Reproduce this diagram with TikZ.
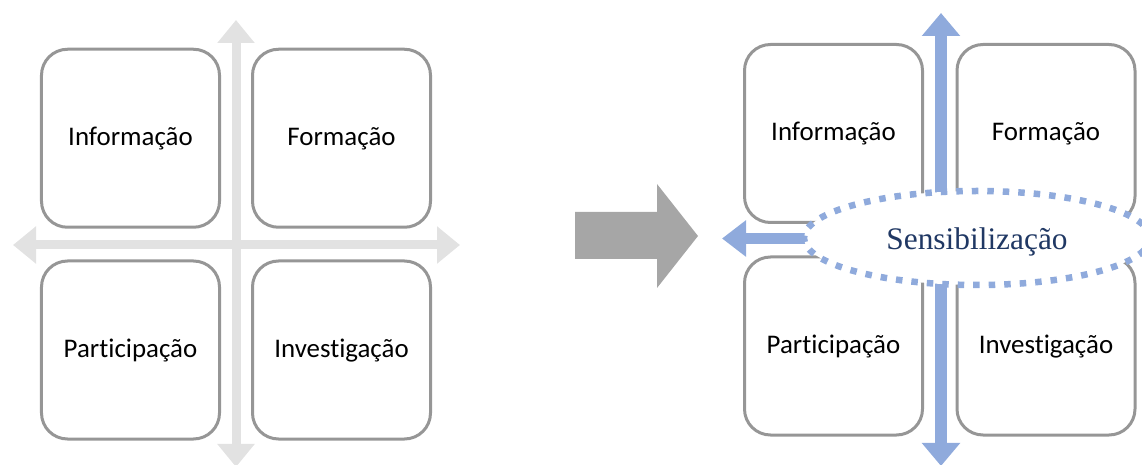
\documentclass[tikz,border=0pt]{standalone}
\usepackage{fontspec}
\setmainfont{Carlito}[Ligatures={NoCommon}]
\newfontfamily\serifface{Liberation Serif}
\usetikzlibrary{arrows.meta,shapes.geometric}
\definecolor{boxgray}{HTML}{969696}
\definecolor{axisgray}{HTML}{E2E2E2}
\definecolor{biggray}{HTML}{A6A6A6}
\definecolor{axisblue}{HTML}{8FAADC}
\definecolor{navy}{HTML}{203864}
\begin{document}
\begin{tikzpicture}[x=1bp,y=-1bp,
  quad/.style={draw=boxgray, line width=3bp, rounded corners=26bp,
    minimum width=178bp, minimum height=178bp, inner sep=0pt,
    text height=14.5bp, text depth=0bp,
    font=\fontsize{27}{32}\selectfont},
  grayaxis/.style={draw=axisgray, line width=9bp,
    {Triangle[width=36bp,length=23bp]}-{Triangle[width=36bp,length=23bp]}},
  blueaxis/.style={draw=axisblue, line width=11.5bp,
    {Triangle[width=37bp,length=23bp]}-{Triangle[width=37bp,length=23bp]}},
  blueleft/.style={draw=axisblue, line width=11.5bp,
    -{Triangle[width=35bp,length=24bp]}},
  sensnode/.style={ellipse, draw=axisblue, fill=white, line width=6.5bp,
    dash pattern=on 6.5bp off 9bp, minimum width=346bp, minimum height=94bp,
    inner sep=0pt, text height=24bp, text depth=0bp,
    text=navy, font=\serifface\fontsize{31.5}{36}\selectfont},
  bigarrow/.style={fill=biggray}
]
\useasboundingbox (0,0) rectangle (1142,465);

% ---------- left panel ----------
\coordinate (lvt) at (236,20);
\coordinate (lvb) at (236,467);
\coordinate (lhl) at (13,245);
\coordinate (lhr) at (460,245);
\draw[grayaxis] (lvt) -- (lvb);
\draw[grayaxis] (lhl) -- (lhr);

\node[quad] (linf) at (130.5,138.25) {Informação};
\node[quad] (lfor) at (341.5,138.25) {Formação};
\node[quad] (lpar) at (130.5,350) {Participação};
\node[quad] (linv) at (341.5,350) {Investigação};

% ---------- big arrow ----------
\fill[bigarrow] (575,212) -- (657,212) -- (657,184) -- (698,236)
  -- (657,288) -- (657,259) -- (575,259) -- cycle;

% ---------- right panel ----------
\node[quad] (rinf) at (833.5,133.5) {Informação};
\node[quad] (rfor) at (1046,133.5) {Formação};
\node[quad] (rpar) at (833.5,346) {Participação};
\node[quad] (rinv) at (1046,346) {Investigação};

\coordinate (rvt) at (941,13);
\coordinate (rvb) at (941,466);
\coordinate (rhc) at (900,238.5);
\coordinate (rhl) at (722,238.5);
\draw[blueaxis] (rvt) -- (rvb);
\draw[blueleft] (rhc) -- (rhl);

\node[sensnode] (sens) at (977,238) {Sensibilização};
\end{tikzpicture}
\end{document}
